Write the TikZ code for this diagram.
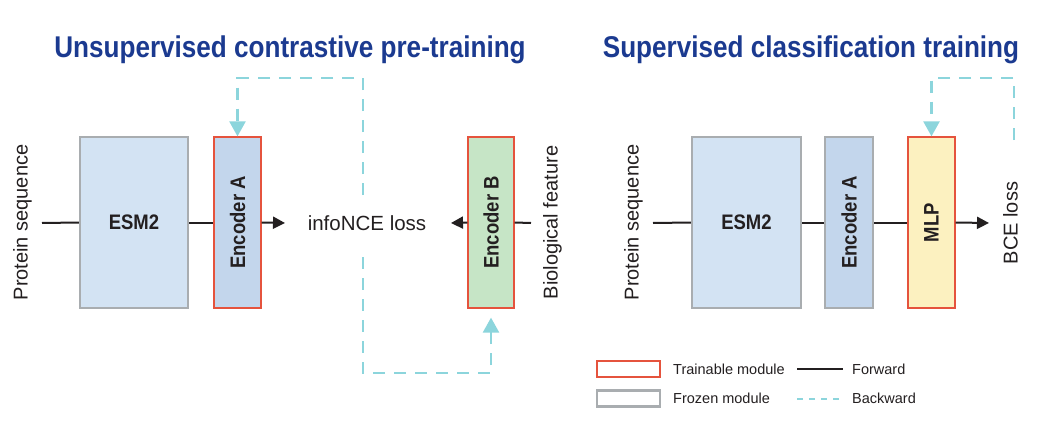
\documentclass[tikz,border=0pt]{standalone}
\usepackage{fontspec}
\usepackage{graphicx}
\setmainfont{Liberation Sans}
\usetikzlibrary{arrows.meta}
\definecolor{esmfill}{HTML}{D3E3F3}
\definecolor{encafill}{HTML}{C3D6EC}
\definecolor{encbfill}{HTML}{C6E5C6}
\definecolor{mlpfill}{HTML}{FCF1C0}
\definecolor{grayb}{HTML}{A9ADB0}
\definecolor{redb}{HTML}{E5533D}
\definecolor{cyanl}{HTML}{8CD5DC}
\definecolor{titleblue}{HTML}{1B3A90}
\definecolor{txt}{HTML}{231F20}
\newcommand{\cond}[1]{\scalebox{0.88}[1]{#1}}
\tikzset{
  frozen/.style={draw=grayb, line width=2.2pt, rectangle, inner sep=0pt},
  trainable/.style={draw=redb, line width=1.3pt, rectangle, inner sep=0pt},
  boxlabel/.style={font=\fontsize{21}{24}\selectfont\bfseries, text=txt},
  sidelabel/.style={font=\fontsize{20}{24}\selectfont, text=txt, rotate=90, inner sep=0pt},
  fwd/.style={draw=txt, line width=2pt},
  fwdarrow/.style={fwd, -{Triangle[length=12pt,width=12pt]}},
  back/.style={draw=cyanl, line width=2.4pt, dash pattern=on 12pt off 9pt},
  backarrow/.style={back, -{Triangle[length=15pt,width=16pt]}},
  legendtext/.style={font=\fontsize{14.5}{17}\selectfont, text=txt, anchor=west, inner sep=0pt},
  titletext/.style={font=\fontsize{30}{34}\selectfont\bfseries, text=titleblue, anchor=base, inner sep=0pt}
}
\begin{document}
\begin{tikzpicture}[x=1pt,y=-1pt]
\useasboundingbox[fill=white] (0,0) rectangle (1053,423);

% titles
\node[titletext] (t1) at (290,57) {\scalebox{0.87}[1]{Unsupervised contrastive pre-training}};
\node[titletext] (t2) at (811,57) {\scalebox{0.87}[1]{Supervised classification training}};

% ---------- left panel ----------
\node[frozen, fill=esmfill, minimum width=108pt, minimum height=171pt, boxlabel] (esmL) at (134,222.5) {\cond{ESM2}};
\node[trainable, fill=encafill, minimum width=47pt, minimum height=171pt] (encAL) at (237.5,222.5) {};
\node[boxlabel, rotate=90] at (encAL) {\cond{Encoder A}};
\node[trainable, fill=encbfill, minimum width=46pt, minimum height=171pt] (encBL) at (491,222.5) {};
\node[boxlabel, rotate=90] at (encBL) {\cond{Encoder B}};

\node[sidelabel] (psL) at (22.5,222.5) {Protein sequence};
\node[sidelabel] (bio) at (552.5,222.5) {Biological feature};
\node[font=\fontsize{20.5}{24}\selectfont, text=txt, inner sep=0pt] (nce) at (367,223) {infoNCE loss};

\coordinate (sL) at (42,223);
\coordinate (aL) at (285,223);
\coordinate (aB) at (451,223);
\coordinate (sB) at (531,223);
\draw[fwd] (sL) -- (esmL.west);
\draw[fwd] (esmL.east) -- (encAL.west);
\draw[fwdarrow] (encAL.east) -- (aL);
\draw[fwd] (sB) -- (encBL.east);
\draw[fwdarrow] (encBL.west) -- (aB);

\coordinate (b1s) at (363,195);
\coordinate (b1t) at (363,78);
\coordinate (b2s) at (363,257);
\coordinate (b2b) at (363,373);
\coordinate (b2e) at ([yshift=-9pt]encBL.south);
\draw[backarrow] (b1s) -- (b1t) -| (encAL.north);
\draw[backarrow] (b2s) -- (b2b) -| (b2e);

% ---------- right panel ----------
\node[frozen, fill=esmfill, minimum width=109pt, minimum height=171pt, boxlabel] (esmR) at (746.5,222.5) {\cond{ESM2}};
\node[frozen, fill=encafill, minimum width=48pt, minimum height=171pt] (encAR) at (849,222.5) {};
\node[boxlabel, rotate=90] at (encAR) {\cond{Encoder A}};
\node[trainable, fill=mlpfill, minimum width=47pt, minimum height=171pt] (mlp) at (931.5,222.5) {};
\node[boxlabel, rotate=90] at (mlp) {\cond{MLP}};

\node[sidelabel] (psR) at (633.5,222.5) {Protein sequence};
\node[sidelabel] (bce) at (1010.5,223) {BCE loss};

\coordinate (sR) at (653,223);
\coordinate (aR) at (989,223);
\draw[fwd] (sR) -- (esmR.west);
\draw[fwd] (esmR.east) -- (encAR.west);
\draw[fwd] (encAR.east) -- (mlp.west);
\draw[fwdarrow] (mlp.east) -- (aR);

\coordinate (b3s) at (1014,140);
\coordinate (b3t) at (1014,78);
\draw[backarrow] (b3s) -- (b3t) -| (mlp.north);

% ---------- legend ----------
\node[trainable, minimum width=63pt, minimum height=16pt] (legT) at (628.5,369) {};
\node[frozen, minimum width=63pt, minimum height=16pt] (legF) at (628.5,398.5) {};
\node[legendtext] (legTt) at (673,369) {Trainable module};
\node[legendtext] (legFt) at (673,398.5) {Frozen module};
\coordinate (lf1) at (797,369);
\coordinate (lf2) at (843,369);
\coordinate (lb1) at (797,398.5);
\coordinate (lb2) at (843,398.5);
\draw[fwd] (lf1) -- (lf2);
\draw[draw=cyanl, line width=2pt, dash pattern=on 6pt off 6pt] (lb1) -- (lb2);
\node[legendtext] (legFw) at (852,369) {Forward};
\node[legendtext] (legBw) at (852,398.5) {Backward};
\end{tikzpicture}
\end{document}
